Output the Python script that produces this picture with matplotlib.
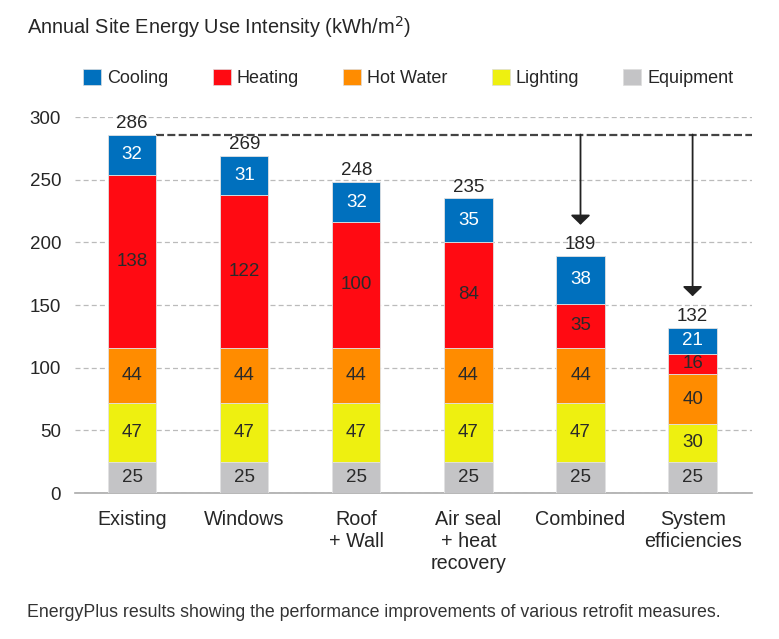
import matplotlib
matplotlib.use("Agg")
import matplotlib.pyplot as plt
import numpy as np
from matplotlib.patches import Patch

categories = ["Existing", "Windows", "Roof\n+ Wall", "Air seal\n+ heat\nrecovery", "Combined", "System\nefficiencies"]
equipment = [25, 25, 25, 25, 25, 25]
lighting = [47, 47, 47, 47, 47, 30]
hot_water = [44, 44, 44, 44, 44, 40]
heating = [138, 122, 100, 84, 35, 16]
cooling = [32, 31, 32, 35, 38, 21]
yticks = [0, 50, 100, 150, 200, 250, 300]

series = [("Equipment", equipment, "#C4C4C6", "#2a2a2a"),
          ("Lighting", lighting, "#EEF010", "#2a2a2a"),
          ("Hot Water", hot_water, "#FF8C00", "#2a2a2a"),
          ("Heating", heating, "#FF0A12", "#2a2a2a"),
          ("Cooling", cooling, "#0070BE", "white")]

FONT = ["Liberation Sans", "DejaVu Sans"]
plt.rcParams['font.family'] = FONT
TXT = "#262626"

fig = plt.figure(figsize=(7.79, 6.39), dpi=100)
ax = fig.add_axes([75/779, 146/639, (752-75)/779, (493-117)/639])

x = np.arange(len(categories))
width = 0.43
bottom = np.zeros(len(categories))
for name, vals, col, tcol in series:
    vals = np.array(vals)
    ax.bar(x, vals, width, bottom=bottom, color=col, edgecolor="#e2e2e2", linewidth=0.6, zorder=3)
    for xi, b, v in zip(x, bottom, vals):
        ax.text(xi, b + v/2, str(v), ha="center", va="center", fontsize=13.5, color=tcol, zorder=4)
    bottom += vals

totals = bottom
for xi, t in zip(x, totals):
    ax.text(xi, t + 5.5, str(int(t)), ha="center", va="baseline", fontsize=13.5, color=TXT, zorder=4)

# dashed baseline at existing total
ax.plot([x[0] + width/2, 5.53], [totals[0], totals[0]], ls=(0, (3.6, 1.5)), color="#444444", lw=1.6, zorder=2, clip_on=False)
for i in [4, 5]:
    ax.annotate("", xy=(x[i], totals[i] + 25), xytext=(x[i], totals[0]),
                arrowprops=dict(arrowstyle="-|>,head_width=0.6,head_length=0.58", color="#222222", lw=1.3, shrinkA=0, shrinkB=0), zorder=5)

ax.set_xlim(-0.51, 5.53)
ax.set_ylim(0, 300)
ax.set_yticks(yticks)
ax.set_yticklabels([str(v) for v in yticks])
ax.set_xticks(x)
ax.set_xticklabels(categories, fontsize=14.2, linespacing=1.2)
ax.tick_params(axis="y", length=0, pad=10, labelsize=13.5, labelcolor=TXT)
ax.tick_params(axis="x", length=0, pad=12, labelcolor=TXT)
for s in ["top", "right", "left"]:
    ax.spines[s].set_visible(False)
ax.spines["bottom"].set_color("#aaaaaa")
ax.spines["bottom"].set_linewidth(1.2)
ax.yaxis.grid(True, ls=(0, (4, 2.5)), color="#bbbbbb", lw=0.9, zorder=0)
ax.set_axisbelow(True)

fig.text(27/779, 1 - 34/639, "Annual Site Energy Use Intensity (kWh/m$^2$)", fontsize=14.4, color=TXT, va="baseline", ha="left")

handles = [Patch(facecolor=c, edgecolor="#dddddd", lw=0.5) for _, _, c, _ in reversed(series)]
labels = [n for n, _, _, _ in reversed(series)]
fig.legend(handles, labels, loc="center left", bbox_to_anchor=(83/779, 1 - 78/639), ncol=5, frameon=False,
           fontsize=13, handlelength=1.0, handleheight=1.0, handletextpad=0.33, columnspacing=2.45,
           borderpad=0, borderaxespad=0, labelcolor=TXT)

fig.text(27/779, 1 - 617/639, "EnergyPlus results showing the performance improvements of various retrofit measures.",
         fontsize=12.8, color="#333333", va="baseline", ha="left")

fig.savefig("out.png", dpi=100)
